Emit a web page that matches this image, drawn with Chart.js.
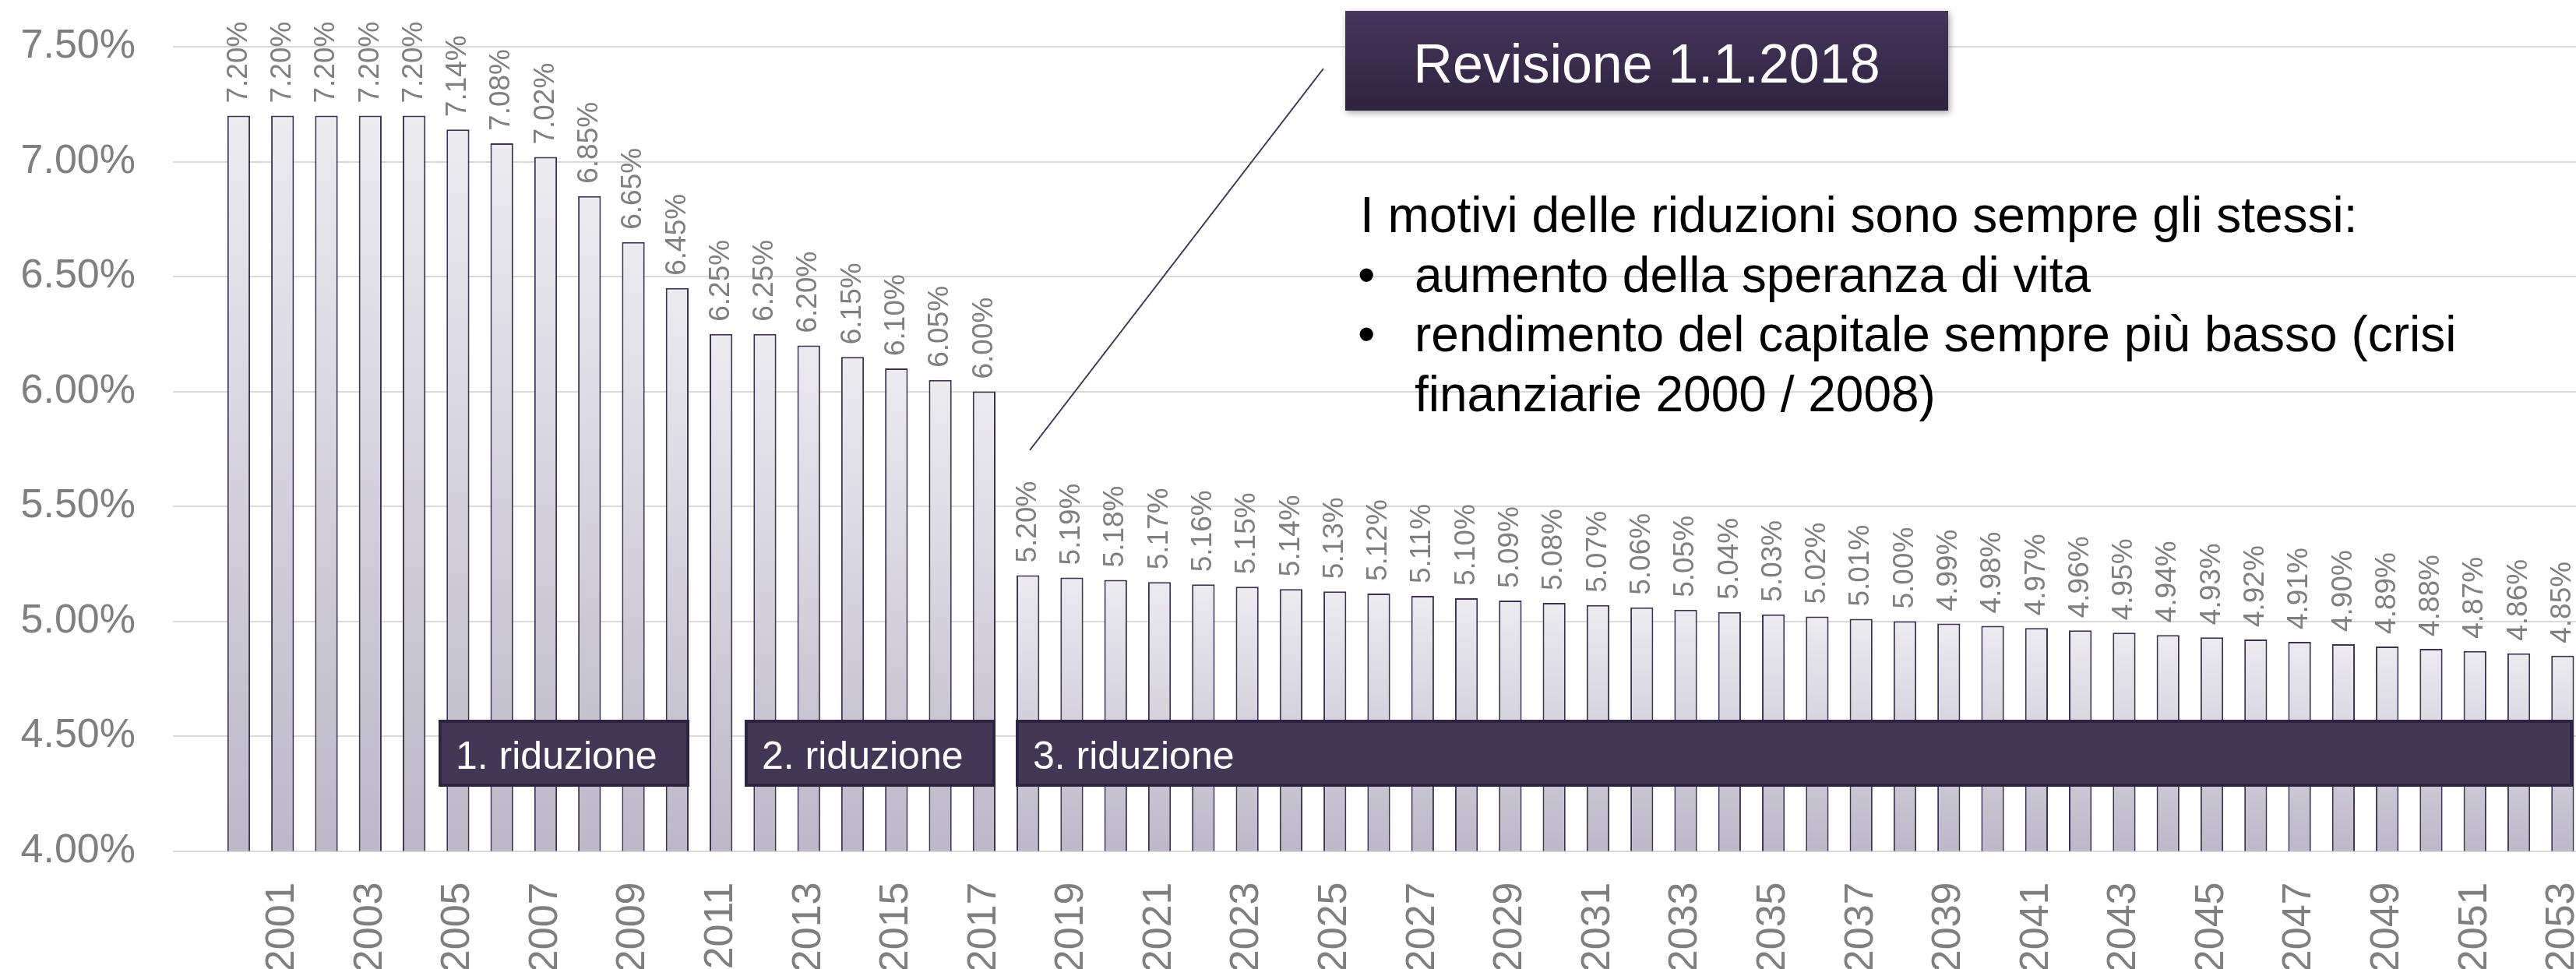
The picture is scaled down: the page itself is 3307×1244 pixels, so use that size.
<!DOCTYPE html>
<html lang="it">
<head>
<meta charset="utf-8">
<title>Tasso di conversione</title>
<script src="https://cdn.jsdelivr.net/npm/chart.js@4.4.1/dist/chart.umd.min.js"></script>
<style>
  html, body { margin: 0; padding: 0; background: #fff; overflow: hidden; }
  #wrap { position: relative; width: 3318px; height: 1244px; }
</style>
</head>
<body>
<div id="wrap"><canvas id="chartTasso"></canvas></div>
<script>
// ---- Dati ----
const anni = [
    2000, 2001, 2002, 2003, 2004, 2005, 2006, 2007, 2008, 2009,
    2010, 2011, 2012, 2013, 2014, 2015, 2016, 2017, 2018, 2019,
    2020, 2021, 2022, 2023, 2024, 2025, 2026, 2027, 2028, 2029,
    2030, 2031, 2032, 2033, 2034, 2035, 2036, 2037, 2038, 2039,
    2040, 2041, 2042, 2043, 2044, 2045, 2046, 2047, 2048, 2049,
    2050, 2051, 2052, 2053
];

const tassi = [
    7.20, 7.20, 7.20, 7.20, 7.20, 7.14, 7.08, 7.02, 6.85, 6.65,
    6.45, 6.25, 6.25, 6.20, 6.15, 6.10, 6.05, 6.00, 5.20, 5.19,
    5.18, 5.17, 5.16, 5.15, 5.14, 5.13, 5.12, 5.11, 5.10, 5.09,
    5.08, 5.07, 5.06, 5.05, 5.04, 5.03, 5.02, 5.01, 5.00, 4.99,
    4.98, 4.97, 4.96, 4.95, 4.94, 4.93, 4.92, 4.91, 4.90, 4.89,
    4.88, 4.87, 4.86, 4.85
];

const tickY = [4.00, 4.50, 5.00, 5.50, 6.00, 6.50, 7.00, 7.50];

// ---- Annotazioni (testi della slide) ----
const riduzioni = [
    { testo: '1. riduzione', x0: 563,  x1: 885 },
    { testo: '2. riduzione', x0: 956,  x1: 1278 },
    { testo: '3. riduzione', x0: 1304, x1: 3303 }
];
const titoloRevisione = 'Revisione 1.1.2018';
const righeNota = [
    { bullet: false, testo: 'I motivi delle riduzioni sono sempre gli stessi:' },
    { bullet: true,  testo: 'aumento della speranza di vita' },
    { bullet: true,  testo: 'rendimento del capitale sempre più basso (crisi' },
    { bullet: false, testo: 'finanziarie 2000 / 2008)' }
];

const FONT = '"Liberation Sans", Arial, sans-serif';
const GRIGIO = '#7f7f7f';
const VIOLA = '#3c3150';

// la prima categoria è vuota, come nel grafico originale
const etichette = [''].concat(anni.map(String));
const valori = [null].concat(tassi);

function gradienteBarra(context) {
    const chart = context.chart;
    if (!chart.chartArea || context.raw == null) return '#dddbe3';
    const y = chart.scales.y;
    const top = y.getPixelForValue(context.raw);
    const base = y.getPixelForValue(tickY[0]);
    const g = chart.ctx.createLinearGradient(0, top, 0, base);
    g.addColorStop(0, '#ecebf0');
    g.addColorStop(1, '#bcb8c8');
    return g;
}

const pluginEtichette = {
    id: 'etichetteValori',
    afterDatasetsDraw(chart) {
        const ctx = chart.ctx;
        const meta = chart.getDatasetMeta(0);
        ctx.save();
        ctx.font = '37px ' + FONT;
        ctx.fillStyle = GRIGIO;
        ctx.textAlign = 'left';
        ctx.textBaseline = 'middle';
        meta.data.forEach((bar, i) => {
            const v = valori[i];
            if (v == null) return;
            ctx.save();
            ctx.translate(bar.x, bar.y - 16);
            ctx.rotate(-Math.PI / 2);
            ctx.fillText(v.toFixed(2) + '%', 0, 0);
            ctx.restore();
        });
        ctx.restore();
    }
};

const pluginNote = {
    id: 'noteSlide',
    afterDatasetsDraw(chart) {
        const ctx = chart.ctx;
        ctx.save();

        // box riduzioni
        riduzioni.forEach(r => {
            ctx.fillStyle = '#433756';
            ctx.fillRect(r.x0, 924, r.x1 - r.x0, 86);
            ctx.strokeStyle = '#2c2440';
            ctx.lineWidth = 4;
            ctx.strokeRect(r.x0 + 2, 926, r.x1 - r.x0 - 4, 82);
            ctx.fillStyle = '#ffffff';
            ctx.font = '50px ' + FONT;
            ctx.textAlign = 'left';
            ctx.textBaseline = 'alphabetic';
            ctx.fillText(r.testo, r.x0 + 22, 987);
        });

        // linea di collegamento
        ctx.strokeStyle = VIOLA;
        ctx.lineWidth = 2;
        ctx.beginPath();
        ctx.moveTo(1322, 578);
        ctx.lineTo(1699, 88);
        ctx.stroke();

        // box revisione
        ctx.save();
        ctx.shadowColor = 'rgba(0,0,0,0.35)';
        ctx.shadowBlur = 8;
        ctx.shadowOffsetX = 2;
        ctx.shadowOffsetY = 3;
        const g = ctx.createLinearGradient(0, 14, 0, 142);
        g.addColorStop(0, '#45365b');
        g.addColorStop(1, '#2e2340');
        ctx.fillStyle = g;
        ctx.fillRect(1727, 14, 774, 128);
        ctx.restore();
        ctx.fillStyle = '#ffffff';
        ctx.font = '70px ' + FONT;
        ctx.textAlign = 'center';
        ctx.fillText(titoloRevisione, 2114, 106);

        // nota
        ctx.fillStyle = '#000000';
        ctx.font = '64px ' + FONT;
        ctx.textAlign = 'left';
        righeNota.forEach((riga, i) => {
            const base = 298 + i * 76.5;
            if (i === 0) {
                ctx.fillText(riga.testo, 1746, base);
                return;
            }
            if (riga.bullet) ctx.fillText('\u2022', 1743, base);
            ctx.fillText(riga.testo, 1816, base);
        });

        ctx.restore();
    }
};

function azzeraPadding(scale) {
    scale.paddingLeft = 0;
    scale.paddingRight = 0;
    scale.paddingTop = 0;
    scale.paddingBottom = 0;
}

const ctx = document.getElementById('chartTasso').getContext('2d');

const chartTasso = new Chart(ctx, {
    type: 'bar',
    data: {
        labels: etichette,
        datasets: [{
            label: 'Tasso di conversione',
            data: valori,
            backgroundColor: gradienteBarra,
            borderColor: VIOLA,
            borderWidth: 2,
            borderSkipped: 'bottom',
            barPercentage: 0.52,
            categoryPercentage: 1
        }]
    },
    options: {
        responsive: true,
        maintainAspectRatio: false,
        animation: false,
        layout: { padding: { top: 60, left: 0, right: 0, bottom: 0 } },
        plugins: {
            legend: { display: false },
            tooltip: { enabled: false }
        },
        scales: {
            x: {
                grid: { display: false, drawTicks: false },
                border: { display: false },
                afterFit: s => { s.height = 151.5; azzeraPadding(s); },
                ticks: {
                    autoSkip: false,
                    minRotation: 90,
                    maxRotation: 90,
                    padding: 40,
                    color: GRIGIO,
                    font: { family: FONT, size: 52 },
                    callback: (val, i) => (i % 2 === 0 ? etichette[i] : '')
                }
            },
            y: {
                min: tickY[0],
                max: tickY[tickY.length - 1],
                afterBuildTicks: s => { s.ticks = tickY.map(v => ({ value: v })); },
                afterFit: s => { s.width = 222; azzeraPadding(s); },
                grid: { color: '#d9d9d9', lineWidth: 2, drawTicks: false },
                border: { display: false },
                ticks: {
                    padding: 48,
                    color: GRIGIO,
                    font: { family: FONT, size: 52 },
                    callback: v => v.toFixed(2) + '%'
                }
            }
        }
    },
    plugins: [pluginNote, pluginEtichette]
});
</script>
</body>
</html>
